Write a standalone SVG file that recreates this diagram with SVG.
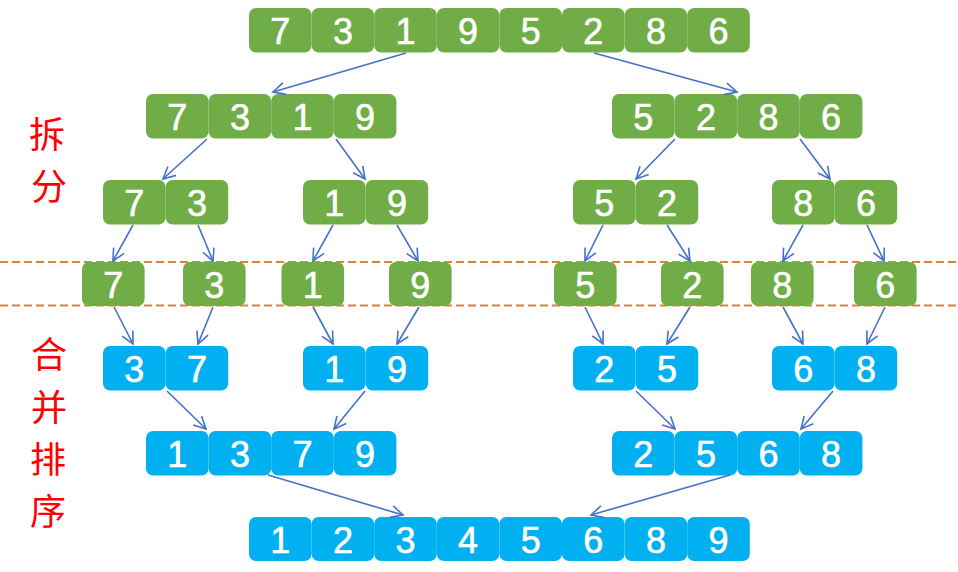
<svg xmlns="http://www.w3.org/2000/svg" width="958" height="572" viewBox="0 0 958 572">
<style>
.g{fill:#70AD47}
.b{fill:#00B0F0}
.n{font-family:"Liberation Sans",Arial,sans-serif;font-size:36px;fill:#fff;stroke:#fff;stroke-width:0.6;text-anchor:middle}
.lbl{font-family:"Noto Sans CJK SC",sans-serif;font-size:36px;fill:#FF0000;text-anchor:middle}
.a{stroke:#4472C4;stroke-width:1.6;fill:none;marker-end:url(#ah)}
.d{stroke:#D9853B;stroke-width:2;stroke-dasharray:8 4;fill:none}
</style>
<defs>
<marker id="ah" markerUnits="userSpaceOnUse" markerWidth="16" markerHeight="16" viewBox="-14 -8 16 16" refX="0" refY="0" orient="auto">
<path d="M-12,-6 L0,0 L-12,6" fill="none" stroke="#4472C4" stroke-width="1.6"/>
</marker>
</defs>
<rect width="958" height="572" fill="#fff"/>
<g id="dashes">
<line class="d" x1="0" y1="262" x2="958" y2="262"/>
<line class="d" x1="0" y1="305.5" x2="958" y2="305.5"/>
</g>
<g id="labels">
<text class="lbl" x="47" y="148">拆</text>
<text class="lbl" x="49" y="200">分</text>
<text class="lbl" x="49" y="368">合</text>
<text class="lbl" x="49" y="421">并</text>
<text class="lbl" x="48" y="473">排</text>
<text class="lbl" x="48" y="525">序</text>
</g>
<g id="row1">
<rect class="g" x="249" y="8" width="62.6" height="44.5" rx="7"/>
<rect class="g" x="311.6" y="8" width="62.6" height="44.5" rx="7"/>
<rect class="g" x="374.2" y="8" width="62.6" height="44.5" rx="7"/>
<rect class="g" x="436.8" y="8" width="62.6" height="44.5" rx="7"/>
<rect class="g" x="499.4" y="8" width="62.6" height="44.5" rx="7"/>
<rect class="g" x="562" y="8" width="62.6" height="44.5" rx="7"/>
<rect class="g" x="624.6" y="8" width="62.6" height="44.5" rx="7"/>
<rect class="g" x="687.2" y="8" width="62.6" height="44.5" rx="7"/>
<text class="n" x="280.3" y="44">7</text>
<text class="n" x="342.9" y="44">3</text>
<text class="n" x="405.5" y="44">1</text>
<text class="n" x="468.1" y="44">9</text>
<text class="n" x="530.7" y="44">5</text>
<text class="n" x="593.3" y="44">2</text>
<text class="n" x="655.9" y="44">8</text>
<text class="n" x="718.5" y="44">6</text>
</g>
<g id="row2-left">
<rect class="g" x="146" y="94" width="62.6" height="44.5" rx="7"/>
<rect class="g" x="208.6" y="94" width="62.6" height="44.5" rx="7"/>
<rect class="g" x="271.2" y="94" width="62.6" height="44.5" rx="7"/>
<rect class="g" x="333.8" y="94" width="62.6" height="44.5" rx="7"/>
<text class="n" x="177.3" y="130">7</text>
<text class="n" x="239.9" y="130">3</text>
<text class="n" x="302.5" y="130">1</text>
<text class="n" x="365.1" y="130">9</text>
</g>
<g id="row2-right">
<rect class="g" x="612" y="94" width="62.6" height="44.5" rx="7"/>
<rect class="g" x="674.6" y="94" width="62.6" height="44.5" rx="7"/>
<rect class="g" x="737.2" y="94" width="62.6" height="44.5" rx="7"/>
<rect class="g" x="799.8" y="94" width="62.6" height="44.5" rx="7"/>
<text class="n" x="643.3" y="130">5</text>
<text class="n" x="705.9" y="130">2</text>
<text class="n" x="768.5" y="130">8</text>
<text class="n" x="831.1" y="130">6</text>
</g>
<g id="row3-73">
<rect class="g" x="103" y="180" width="62.6" height="44.5" rx="7"/>
<rect class="g" x="165.6" y="180" width="62.6" height="44.5" rx="7"/>
<text class="n" x="134.3" y="216">7</text>
<text class="n" x="196.9" y="216">3</text>
</g>
<g id="row3-19">
<rect class="g" x="303" y="180" width="62.6" height="44.5" rx="7"/>
<rect class="g" x="365.6" y="180" width="62.6" height="44.5" rx="7"/>
<text class="n" x="334.3" y="216">1</text>
<text class="n" x="396.9" y="216">9</text>
</g>
<g id="row3-52">
<rect class="g" x="573" y="180" width="62.6" height="44.5" rx="7"/>
<rect class="g" x="635.6" y="180" width="62.6" height="44.5" rx="7"/>
<text class="n" x="604.3" y="216">5</text>
<text class="n" x="666.9" y="216">2</text>
</g>
<g id="row3-86">
<rect class="g" x="772" y="180" width="62.6" height="44.5" rx="7"/>
<rect class="g" x="834.6" y="180" width="62.6" height="44.5" rx="7"/>
<text class="n" x="803.3" y="216">8</text>
<text class="n" x="865.9" y="216">6</text>
</g>
<g id="single-7"><rect class="g" x="82" y="262" width="62.6" height="44" rx="7"/><text class="n" x="113.3" y="298">7</text></g>
<g id="single-3"><rect class="g" x="183" y="262" width="62.6" height="44" rx="7"/><text class="n" x="214.3" y="298">3</text></g>
<g id="single-1"><rect class="g" x="281.5" y="262" width="62.6" height="44" rx="7"/><text class="n" x="312.8" y="298">1</text></g>
<g id="single-9"><rect class="g" x="389" y="262" width="62.6" height="44" rx="7"/><text class="n" x="420.3" y="298">9</text></g>
<g id="single-5"><rect class="g" x="554" y="262" width="62.6" height="44" rx="7"/><text class="n" x="585.3" y="298">5</text></g>
<g id="single-2"><rect class="g" x="661" y="262" width="62.6" height="44" rx="7"/><text class="n" x="692.3" y="298">2</text></g>
<g id="single-8"><rect class="g" x="751" y="262" width="62.6" height="44" rx="7"/><text class="n" x="782.3" y="298">8</text></g>
<g id="single-6"><rect class="g" x="854" y="262" width="62.6" height="44" rx="7"/><text class="n" x="885.3" y="298">6</text></g>
<g id="row5-37">
<rect class="b" x="103" y="346" width="62.6" height="44.5" rx="7"/>
<rect class="b" x="165.6" y="346" width="62.6" height="44.5" rx="7"/>
<text class="n" x="134.3" y="382">3</text>
<text class="n" x="196.9" y="382">7</text>
</g>
<g id="row5-19">
<rect class="b" x="303" y="346" width="62.6" height="44.5" rx="7"/>
<rect class="b" x="365.6" y="346" width="62.6" height="44.5" rx="7"/>
<text class="n" x="334.3" y="382">1</text>
<text class="n" x="396.9" y="382">9</text>
</g>
<g id="row5-25">
<rect class="b" x="573" y="346" width="62.6" height="44.5" rx="7"/>
<rect class="b" x="635.6" y="346" width="62.6" height="44.5" rx="7"/>
<text class="n" x="604.3" y="382">2</text>
<text class="n" x="666.9" y="382">5</text>
</g>
<g id="row5-68">
<rect class="b" x="772" y="346" width="62.6" height="44.5" rx="7"/>
<rect class="b" x="834.6" y="346" width="62.6" height="44.5" rx="7"/>
<text class="n" x="803.3" y="382">6</text>
<text class="n" x="865.9" y="382">8</text>
</g>
<g id="row6-left">
<rect class="b" x="146" y="431" width="62.6" height="44.5" rx="7"/>
<rect class="b" x="208.6" y="431" width="62.6" height="44.5" rx="7"/>
<rect class="b" x="271.2" y="431" width="62.6" height="44.5" rx="7"/>
<rect class="b" x="333.8" y="431" width="62.6" height="44.5" rx="7"/>
<text class="n" x="177.3" y="467">1</text>
<text class="n" x="239.9" y="467">3</text>
<text class="n" x="302.5" y="467">7</text>
<text class="n" x="365.1" y="467">9</text>
</g>
<g id="row6-right">
<rect class="b" x="612" y="431" width="62.6" height="44.5" rx="7"/>
<rect class="b" x="674.6" y="431" width="62.6" height="44.5" rx="7"/>
<rect class="b" x="737.2" y="431" width="62.6" height="44.5" rx="7"/>
<rect class="b" x="799.8" y="431" width="62.6" height="44.5" rx="7"/>
<text class="n" x="643.3" y="467">2</text>
<text class="n" x="705.9" y="467">5</text>
<text class="n" x="768.5" y="467">6</text>
<text class="n" x="831.1" y="467">8</text>
</g>
<g id="row7">
<rect class="b" x="249" y="517" width="62.6" height="44" rx="7"/>
<rect class="b" x="311.6" y="517" width="62.6" height="44" rx="7"/>
<rect class="b" x="374.2" y="517" width="62.6" height="44" rx="7"/>
<rect class="b" x="436.8" y="517" width="62.6" height="44" rx="7"/>
<rect class="b" x="499.4" y="517" width="62.6" height="44" rx="7"/>
<rect class="b" x="562" y="517" width="62.6" height="44" rx="7"/>
<rect class="b" x="624.6" y="517" width="62.6" height="44" rx="7"/>
<rect class="b" x="687.2" y="517" width="62.6" height="44" rx="7"/>
<text class="n" x="280.3" y="553">1</text>
<text class="n" x="342.9" y="553">2</text>
<text class="n" x="405.5" y="553">3</text>
<text class="n" x="468.1" y="553">4</text>
<text class="n" x="530.7" y="553">5</text>
<text class="n" x="593.3" y="553">6</text>
<text class="n" x="655.9" y="553">8</text>
<text class="n" x="718.5" y="553">9</text>
</g>
<g id="connectors">
<line class="a" x1="406" y1="53" x2="273" y2="92"/>
<line class="a" x1="594" y1="53" x2="737" y2="92"/>
<line class="a" x1="207" y1="139" x2="163" y2="179"/>
<line class="a" x1="336" y1="139" x2="365" y2="179"/>
<line class="a" x1="675" y1="139" x2="636" y2="179"/>
<line class="a" x1="800" y1="139" x2="830" y2="179"/>
<line class="a" x1="133" y1="225" x2="113" y2="261"/>
<line class="a" x1="198" y1="225" x2="213" y2="261"/>
<line class="a" x1="333" y1="225" x2="313" y2="261"/>
<line class="a" x1="397" y1="225" x2="418" y2="261"/>
<line class="a" x1="603" y1="225" x2="585" y2="261"/>
<line class="a" x1="667" y1="225" x2="690" y2="261"/>
<line class="a" x1="803" y1="225" x2="783" y2="261"/>
<line class="a" x1="867" y1="225" x2="884" y2="261"/>
<line class="a" x1="114" y1="307" x2="133" y2="344"/>
<line class="a" x1="213" y1="307" x2="198" y2="344"/>
<line class="a" x1="313" y1="307" x2="333" y2="344"/>
<line class="a" x1="419" y1="307" x2="397" y2="344"/>
<line class="a" x1="585" y1="307" x2="603" y2="344"/>
<line class="a" x1="690" y1="307" x2="667" y2="344"/>
<line class="a" x1="783" y1="307" x2="803" y2="344"/>
<line class="a" x1="885" y1="307" x2="867" y2="344"/>
<line class="a" x1="167" y1="391" x2="206" y2="429"/>
<line class="a" x1="365" y1="391" x2="334" y2="429"/>
<line class="a" x1="636" y1="391" x2="675" y2="429"/>
<line class="a" x1="833" y1="391" x2="801" y2="429"/>
<line class="a" x1="268" y1="475" x2="403" y2="515"/>
<line class="a" x1="730" y1="475" x2="591" y2="515"/>
</g>
</svg>
